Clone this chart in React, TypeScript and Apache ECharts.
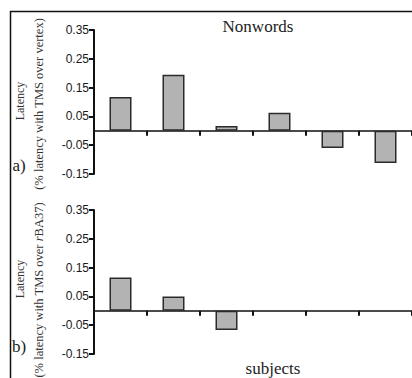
import React, { useEffect, useRef } from "react";
import * as echarts from "echarts";

const subjects = ["1", "2", "3", "4", "5", "6"];
const vertexValues = [0.117, 0.195, 0.017, 0.063, -0.06, -0.112];
const rba37Values: (number | null)[] = [0.116, 0.05, -0.067, null, null, null];
const yTicks = [-0.15, -0.05, 0.05, 0.15, 0.25, 0.35];

const serif = "'Liberation Serif', 'DejaVu Serif', serif";
const sans = "'Liberation Sans', Arial, sans-serif";

export default function App() {
  const ref = useRef<HTMLDivElement>(null);
  useEffect(() => {
    if (!ref.current) return;
    const chart = echarts.init(ref.current, null, { renderer: "svg" });
    const grids = [
      { left: 94, top: 30, width: 324, height: 144 },
      { left: 94, top: 210, width: 324, height: 144 },
    ];
    const xAxis = [0, 1].map((i) => ({
      type: "category" as const,
      gridIndex: i,
      data: subjects,
      boundaryGap: true,
      axisLine: { onZero: true, lineStyle: { color: "#111", width: 1.6 } },
      axisTick: { show: true, interval: 0, length: 5, lineStyle: { color: "#111", width: 2 } },
      axisLabel: { show: false },
      splitLine: { show: false },
    }));
    const yAxis = [0, 1].map((i) => ({
      type: "value" as const,
      gridIndex: i,
      min: -0.15,
      max: 0.35,
      interval: 0.05,
      axisLine: { show: true, onZero: false, lineStyle: { color: "#111", width: 2 } },
      axisTick: { show: true, length: 5, customValues: yTicks, lineStyle: { color: "#111", width: 2 } },
      axisLabel: {
        show: true,
        customValues: yTicks,
        formatter: (v: number) => v.toFixed(2),
        fontFamily: sans,
        fontSize: 12,
        color: "#1a1a1a",
        margin: 5,
      },
      splitLine: { show: false },
    }));
    const barStyle = { color: "#b3b3b3", borderColor: "#2a2a2a", borderWidth: 1.5 };
    chart.setOption({
      animation: false,
      grid: grids,
      xAxis,
      yAxis,
      series: [
        { type: "bar", xAxisIndex: 0, yAxisIndex: 0, data: vertexValues, barWidth: 22, itemStyle: barStyle },
        { type: "bar", xAxisIndex: 1, yAxisIndex: 1, data: rba37Values, barWidth: 22, itemStyle: barStyle },
      ],
      graphic: [
        { type: "line", shape: { x1: 10.5, y1: 11, x2: 10.5, y2: 378 }, style: { stroke: "#111", lineWidth: 1.5 } },
        { type: "line", shape: { x1: 10, y1: 11.5, x2: 412, y2: 11.5 }, style: { stroke: "#111", lineWidth: 1.5 } },
        {
          type: "text", x: 258, y: 26,
          style: { text: "Nonwords", fontFamily: serif, fontSize: 17, fill: "#222", align: "center", verticalAlign: "middle" },
        },
        {
          type: "text", x: 273, y: 368,
          style: { text: "subjects", fontFamily: serif, fontSize: 17, fill: "#222", align: "center", verticalAlign: "middle" },
        },
        {
          type: "text", x: 19, y: 165,
          style: { text: "a)", fontFamily: serif, fontSize: 17, fill: "#222", align: "center", verticalAlign: "middle" },
        },
        {
          type: "text", x: 19, y: 346,
          style: { text: "b)", fontFamily: serif, fontSize: 17, fill: "#222", align: "center", verticalAlign: "middle" },
        },
        {
          type: "text", x: 20, y: 101, rotation: Math.PI / 2,
          style: { text: "Latency", fontFamily: serif, fontSize: 12, fill: "#333", align: "center", verticalAlign: "middle" },
        },
        {
          type: "text", x: 39, y: 104, rotation: Math.PI / 2,
          style: { text: "(% latency with TMS over vertex)", fontFamily: serif, fontSize: 12.5, fill: "#333", align: "center", verticalAlign: "middle" },
        },
        {
          type: "text", x: 20, y: 279, rotation: Math.PI / 2,
          style: { text: "Latency", fontFamily: serif, fontSize: 12, fill: "#333", align: "center", verticalAlign: "middle" },
        },
        {
          type: "text", x: 39, y: 290, rotation: Math.PI / 2,
          style: {
            text: "{n|(% latency with TMS over }{i|r}{n|BA37)}",
            fontFamily: serif, fontSize: 12.5, fill: "#333", align: "center", verticalAlign: "middle",
            rich: {
              n: { fontFamily: serif, fontSize: 12.5, fill: "#333" },
              i: { fontFamily: serif, fontSize: 12.5, fill: "#333", fontStyle: "italic" },
            },
          },
        },
      ],
    });
    return () => chart.dispose();
  }, []);
  return <div ref={ref} style={{ position: "fixed", left: 0, top: 0, width: 412, height: 378, background: "#fff" }} />;
}
